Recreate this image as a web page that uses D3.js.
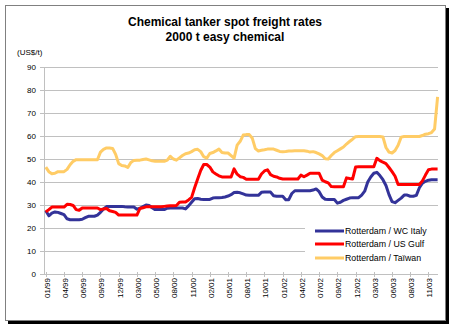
<!DOCTYPE html>
<html>
<head>
<meta charset="utf-8">
<script src="https://cdn.jsdelivr.net/npm/d3@7"></script>
<style>
    body { margin: 0; background: #fff; }
    text { font-family: Arial, "Liberation Sans", sans-serif; fill: #000; }
    .title { font-size: 12px; font-weight: bold; }
    .tick-label { font-size: 8px; }
    .legend-label { font-size: 8.8px; }
</style>
</head>
<body>
<svg id="chart" width="452" height="328"></svg>
<script>
// weekly spot rates, one value every two weeks from 01/99
let wcItaly = [27.5, 25.3, 26.5, 27, 26.8, 26.3, 25.8, 24, 23.6, 23.6,
    23.6, 23.6, 23.8, 24.5, 25.1, 25.1, 25.1, 25.6, 26.8, 28.3,
    29.3, 29.4, 29.4, 29.4, 29.4, 29.4, 29.2, 29.1, 29.1, 29.1,
    28.2, 28.6, 29.3, 30, 29.8, 28.8, 28, 28, 28, 28,
    28.6, 28.7, 28.7, 28.7, 28.7, 28.7, 28.3, 29.6, 31.2, 32.7,
    32.8, 32.5, 32.4, 32.4, 32.4, 33, 33.2, 33.2, 33.3, 33.5,
    33.9, 34.5, 35.4, 35.5, 35.3, 34.8, 34.3, 34.2, 34.2, 34.2,
    34.2, 35.5, 35.6, 35.6, 35.6, 34, 33.8, 33.8, 33.8, 32.3,
    32.3, 35, 36.2, 36.2, 36.2, 36.2, 36.2, 36.2, 36.5, 37,
    35.8, 33.5, 32.5, 32.4, 32.4, 32.4, 30.8, 31.2, 32, 32.5,
    33, 33.2, 33.2, 33.2, 34.3, 36, 40, 42.2, 43.8, 44.2,
    42.8, 41, 38.5, 34.5, 31.5, 31, 32, 33, 34.3, 34.3,
    33.8, 33.8, 34.2, 37.5, 39.5, 40.3, 40.8, 41, 41, 41];

let usGulf = [27, 28, 29.1, 29.1, 29.1, 29.1, 29.1, 30.3, 30.2, 29.8,
    28, 27.7, 28.7, 28.7, 28.7, 28.7, 28.7, 28.7, 28, 28.3,
    28.5, 27.5, 27.2, 26.8, 25.6, 25.6, 25.6, 25.6, 25.6, 25.6,
    25.6, 28.5, 28.8, 29.2, 29.2, 29.2, 29.2, 29.2, 29.2, 29.4,
    29.6, 29.7, 29.7, 29.8, 31.2, 31.3, 31.3, 32.2, 33.3, 37.5,
    41.3, 45, 47.6, 47.6, 46.5, 44.4, 43.5, 42.7, 42.2, 42.2,
    42.2, 42.2, 45.7, 43.4, 42.3, 42, 41.2, 41.2, 41.2, 41.2,
    41.2, 43.5, 44.8, 45.3, 43.2, 42.5, 42.2, 41.6, 41.3, 41.3,
    41.3, 41.3, 41.3, 41.3, 43, 42.3, 43, 43.8, 43.8, 43.8,
    43.8, 40.8, 40.1, 39.6, 38, 37.9, 37.9, 37.9, 37.9, 41.8,
    41.5, 41.3, 46.5, 46.6, 46.6, 46.6, 46.6, 46.6, 46.6, 50.3,
    49.3, 48.6, 48, 46.3, 44.5, 42.5, 38.9, 38.9, 38.9, 38.9,
    38.9, 38.9, 38.9, 38.9, 40.5, 43, 45.3, 45.6, 45.6, 45.6];

let taiwan = [46.5, 44.5, 43.6, 43.8, 44.5, 44.5, 44.5, 45.5, 47.5, 49,
    49.7, 49.7, 49.7, 49.7, 49.7, 49.7, 49.7, 49.7, 53, 54.2,
    54.8, 54.8, 54.6, 52, 48, 47.2, 47, 46.3, 48.5, 49.4,
    49.5, 49.5, 49.8, 50, 49.6, 49.2, 49, 49, 49, 49,
    49.5, 51.2, 50, 49.5, 50.5, 51.5, 52.3, 52.6, 53.2, 54,
    54.2, 53.2, 51, 50.4, 52.4, 52.8, 53.5, 54.3, 52.8, 52.6,
    52.6, 51.5, 50.4, 56, 57.7, 60.4, 60.6, 60.6, 59, 54.5,
    53.5, 53.8, 54, 54.3, 54.4, 54.3, 53.8, 53.3, 53.2, 53.3,
    53.5, 53.5, 53.6, 53.6, 53.6, 53.6, 53.4, 53, 53.2, 52.8,
    52.2, 51.5, 50.1, 50, 51.5, 52.8, 53.6, 54.4, 55.2, 56.5,
    57.6, 58.6, 59.7, 59.8, 59.8, 59.8, 59.8, 59.8, 59.8, 59.8,
    59.8, 59.6, 55, 53, 52.6, 53.7, 56, 59.5, 59.8, 59.8,
    59.8, 59.8, 59.8, 59.8, 60.2, 60.8, 61, 61.5, 63, 77];

let tickLabels = ["01/99", "04/99", "06/99", "09/99", "12/99", "03/00", "05/00", "08/00",
    "11/00", "02/01", "05/01", "08/01", "10/01", "01/02", "04/02", "07/02",
    "09/02", "12/02", "03/03", "06/03", "08/03", "11/03"];
let labelStep = 6;
let yTicks = [0, 10, 20, 30, 40, 50, 60, 70, 80, 90];

let seriesNames = ["Rotterdam / WC Italy", "Rotterdam / US Gulf", "Rotterdam / Taïwan"];
let seriesColors = ["#333399", "#ff0000", "#ffcc66"];
let series = [wcItaly, usGulf, taiwan];

let svg = d3.select("#chart");

let plotLeft = 44, plotRight = 438, plotTop = 67, plotBottom = 274;

// frame with shadow
svg.append("rect").attr("x", 8).attr("y", 8).attr("width", 441).attr("height", 316)
    .attr("fill", "#000");
svg.append("rect").attr("x", 5.5).attr("y", 5.5).attr("width", 440).attr("height", 315)
    .attr("fill", "#fff").attr("stroke", "#808080");

let xScale = d3.scaleLinear().domain([0, wcItaly.length - 1]).range([45.8, 437.6]);
let yScale = d3.scaleLinear().domain([0, 90]).range([plotBottom, plotTop]);

// gridlines
svg.append("g").selectAll("line")
    .data(yTicks)
    .enter().append("line")
    .attr("x1", plotLeft - 4)
    .attr("x2", plotRight)
    .attr("y1", d => Math.round(yScale(d)) + 0.5)
    .attr("y2", d => Math.round(yScale(d)) + 0.5)
    .attr("stroke", "#c0c0c0");

svg.append("line")
    .attr("x1", plotLeft + 0.5).attr("x2", plotLeft + 0.5)
    .attr("y1", plotTop).attr("y2", plotBottom + 1)
    .attr("stroke", "#c0c0c0");

// y labels
svg.append("g").selectAll("text")
    .data(yTicks)
    .enter().append("text")
    .attr("class", "tick-label")
    .attr("x", 36)
    .attr("y", d => yScale(d) + 3)
    .attr("text-anchor", "end")
    .text(d => d);

svg.append("text")
    .attr("class", "tick-label")
    .attr("x", 17)
    .attr("y", 55)
    .text("(US$/t)");

// x ticks and labels
let xTicks = svg.append("g").selectAll("g")
    .data(tickLabels)
    .enter().append("g")
    .attr("transform", (d, i) => `translate(${Math.round(xScale(i * labelStep)) + 0.5},0)`);

xTicks.append("line")
    .attr("y1", plotBottom - 2).attr("y2", plotBottom + 3)
    .attr("stroke", "#c0c0c0");

xTicks.append("text")
    .attr("class", "tick-label")
    .attr("transform", `translate(3,${plotBottom + 4}) rotate(-90)`)
    .attr("text-anchor", "end")
    .text(d => d);

// lines
let line = d3.line()
    .x((d, i) => xScale(i))
    .y(d => yScale(d));

svg.append("g").selectAll("path")
    .data(series)
    .enter().append("path")
    .attr("d", d => line(d))
    .attr("fill", "none")
    .attr("stroke", (d, i) => seriesColors[i])
    .attr("stroke-width", 3)
    .attr("stroke-linejoin", "round");

// legend
svg.append("rect")
    .attr("x", 305).attr("y", 218).attr("width", 134).attr("height", 50)
    .attr("fill", "#fff");

let legend = svg.append("g").selectAll("g")
    .data(seriesNames)
    .enter().append("g")
    .attr("transform", (d, i) => `translate(0,${[231, 244, 258][i]})`);

legend.append("line")
    .attr("x1", 315).attr("x2", 344)
    .attr("stroke", (d, i) => seriesColors[i])
    .attr("stroke-width", 3);

legend.append("text")
    .attr("class", "legend-label")
    .attr("x", 345)
    .attr("y", 3)
    .text(d => d);

// titles
svg.append("text")
    .attr("class", "title")
    .attr("x", 225).attr("y", 26)
    .attr("text-anchor", "middle")
    .text("Chemical tanker spot freight rates");

svg.append("text")
    .attr("class", "title")
    .attr("x", 225).attr("y", 41)
    .attr("text-anchor", "middle")
    .text("2000 t easy chemical");
</script>
</body>
</html>
